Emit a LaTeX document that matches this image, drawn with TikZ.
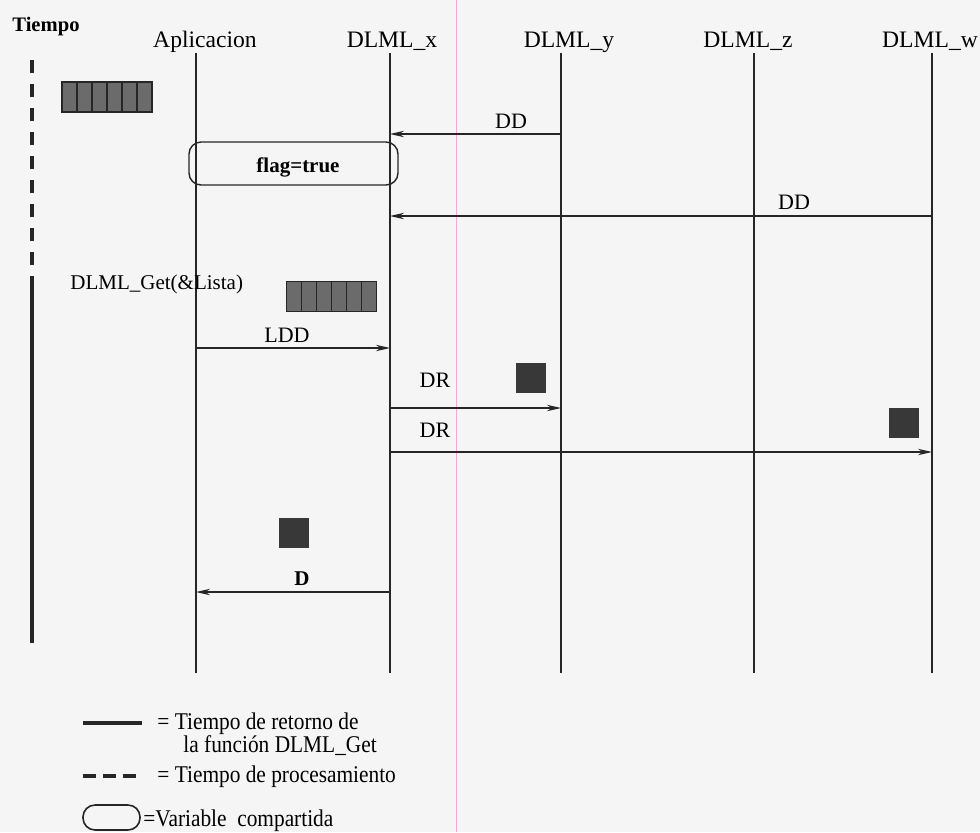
\documentclass[tikz,border=0pt]{standalone}
\usepackage{fontspec}
\setmainfont{Liberation Serif}
\newfontfamily\legfont[FakeStretch=0.89]{Liberation Serif}
\usetikzlibrary{arrows.meta}
\begin{document}
\begin{tikzpicture}[x=0.5pt,y=-0.5pt,
  hdr/.style={font=\fontsize{11.8}{14}\selectfont, inner sep=0pt, anchor=base},
  lbl/.style={font=\fontsize{11}{13}\selectfont, inner sep=0pt, anchor=base},
  blbl/.style={font=\bfseries\fontsize{10.5}{13}\selectfont, inner sep=0pt, anchor=base},
  legtxt/.style={font=\legfont\fontsize{12}{14}\selectfont, inner sep=0pt, anchor=base west},
  lifeline/.style={line width=0.7pt, draw=black!85},
  msg/.style={line width=0.7pt, draw=black!85, -{Stealth[length=7pt,width=3.2pt,inset=2.2pt]}},
  queuebox/.style={draw=black!85, fill=black!58, line width=0.6pt, minimum width=45pt, minimum height=15pt, inner sep=0pt,
    path picture={\foreach \i in {1,...,5}{\draw[black!85,line width=0.6pt] ([xshift=\i*7.5pt]path picture bounding box.north west) -- ([xshift=\i*7.5pt]path picture bounding box.south west);}}},
  token/.style={fill=black!78, minimum size=15pt, inner sep=0pt},
  sharedvar/.style={draw=black!85, line width=0.7pt, rounded corners=6pt, minimum width=104.5pt, minimum height=21.5pt, inner sep=0pt},
]
% background
\fill[white!96!black] (0,0) rectangle (980,832);
\useasboundingbox (0,0) rectangle (980,832);
% scan margin line
\draw[magenta!35, line width=0.5pt] (456,0) -- (456,832);

% time axis
\node[font=\bfseries\fontsize{10.3}{12}\selectfont, inner sep=0pt, anchor=base west] (tiempo) at (12,31) {Tiempo};
\coordinate (t0) at (32,60);
\coordinate (t1) at (32,289);
\coordinate (t2) at (32,643);
\draw[line width=2pt, dash pattern=on 6.5pt off 5.5pt, black!85] (t0) -- (t1);
\draw[line width=2pt, black!85] (t1) -- (t2);

% headers
\node[hdr] (hA) at (205,47) {Aplicacion};
\node[hdr] (hX) at (392,47) {DLML\_x};
\node[hdr] (hY) at (569,47) {DLML\_y};
\node[hdr] (hZ) at (748,47) {DLML\_z};
\node[hdr] (hW) at (930,47) {DLML\_w};

% lifelines
\coordinate (A0) at (196,53);  \coordinate (A1) at (196,673);
\coordinate (X0) at (390,53);  \coordinate (X1) at (390,673);
\coordinate (Y0) at (561,53);  \coordinate (Y1) at (561,673);
\coordinate (Z0) at (754,53);  \coordinate (Z1) at (754,673);
\coordinate (W0) at (932,53);  \coordinate (W1) at (932,673);
\draw[lifeline] (A0) -- (A1);
\draw[lifeline] (X0) -- (X1);
\draw[lifeline] (Y0) -- (Y1);
\draw[lifeline] (Z0) -- (Z1);
\draw[lifeline] (W0) -- (W1);

% queue boxes
\node[queuebox] (q1) at (107,97) {};
\node[queuebox] (q2) at (331.5,296.5) {};

% shared variable
\node[sharedvar] (flag) at (293.5,163.5) {};
\node[blbl] (flagtxt) at (298,172) {flag=true};

% DD messages
\coordinate (dd1s) at (561,134); \coordinate (dd1e) at (390,134);
\draw[msg] (dd1s) -- (dd1e);
\node[lbl] (dd1) at (511,128) {DD};
\coordinate (dd2s) at (932,216); \coordinate (dd2e) at (390,216);
\draw[msg] (dd2s) -- (dd2e);
\node[lbl] (dd2) at (794,209) {DD};

% DLML_Get
\node[font=\fontsize{10.5}{13}\selectfont, inner sep=0pt, anchor=base west] (get) at (70,289) {DLML\_Get(\&Lista)};

% LDD
\coordinate (ldds) at (196,348); \coordinate (ldde) at (390,348);
\draw[msg] (ldds) -- (ldde);
\node[lbl] (ldd) at (287,342) {LDD};

% DR messages
\node[token] (tk1) at (531,378) {};
\coordinate (dr1s) at (390,408); \coordinate (dr1e) at (561,408);
\draw[msg] (dr1s) -- (dr1e);
\node[lbl] (dr1) at (435,387) {DR};
\node[token] (tk2) at (903.5,423) {};
\coordinate (dr2s) at (390,452); \coordinate (dr2e) at (932,452);
\draw[msg] (dr2s) -- (dr2e);
\node[lbl] (dr2) at (435,437) {DR};

% D message
\node[token] (tk3) at (293.5,532.5) {};
\coordinate (ds) at (390,592); \coordinate (de) at (196,592);
\draw[msg] (ds) -- (de);
\node[blbl] (dlab) at (302,585) {D};

% legend
\coordinate (l1a) at (83,723); \coordinate (l1b) at (142,723);
\draw[line width=1.8pt, black!85] (l1a) -- (l1b);
\node[legtxt] (leg1) at (157,729) {= Tiempo de retorno de};
\node[legtxt] (leg1b) at (183,752) {la función DLML\_Get};
\coordinate (l2a) at (83,776); \coordinate (l2b) at (142,776);
\draw[line width=1.8pt, black!85, dash pattern=on 6.5pt off 3.5pt] (l2a) -- (l2b);
\node[legtxt] (leg2) at (157,782) {= Tiempo de procesamiento};
\node[draw=black!85, line width=0.8pt, rounded corners=6pt, minimum width=28.5pt, minimum height=12.5pt, inner sep=0pt] (legbox) at (111.5,817.5) {};
\node[legtxt] (leg3) at (143,826) {=Variable\ \ compartida};
\end{tikzpicture}
\end{document}
